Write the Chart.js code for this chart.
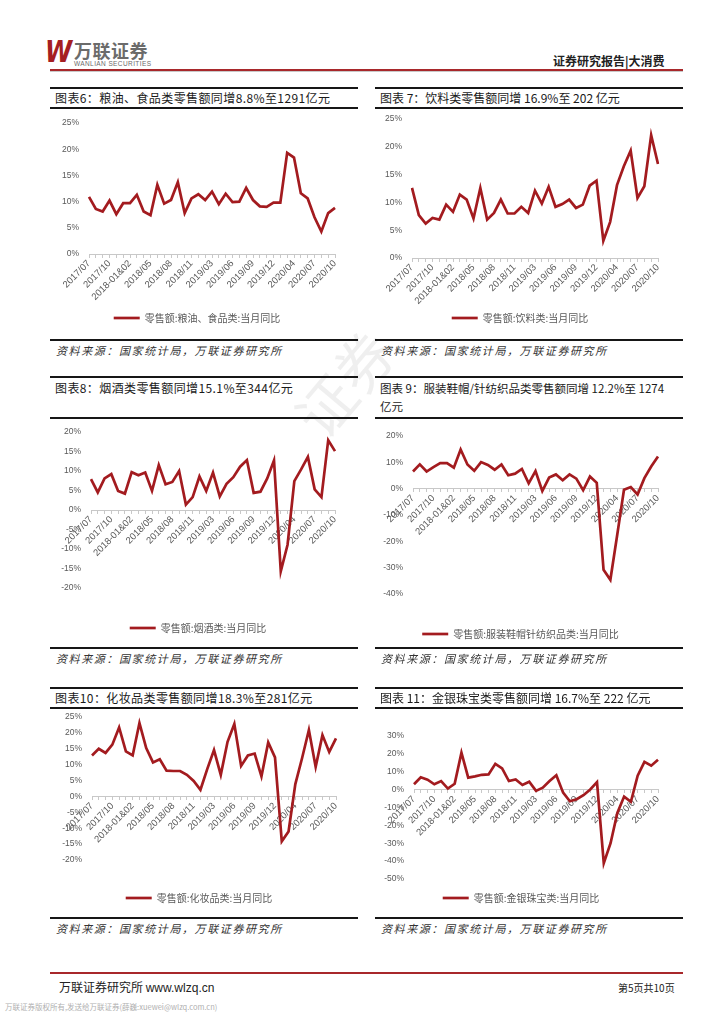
<!DOCTYPE html>
<html>
<head>
<meta charset="utf-8">
<script src="https://cdn.jsdelivr.net/npm/chart.js@4.4.0/dist/chart.umd.min.js"></script>
<style>
  body { margin: 0; background: #fff; }
  #page { position: relative; width: 724px; height: 1024px; overflow: hidden; font-family: "Noto Sans CJK SC", sans-serif; }
  .rule { position: absolute; height: 2px; background: #161616; }
  .ttl { position: absolute; font-size: 12px; color: #1a1a1a; line-height: 18px; white-space: nowrap; }
  .src { position: absolute; font-size: 11px; font-style: italic; color: #333; letter-spacing: 1.6px; white-space: nowrap; }
  canvas { position: absolute; }
</style>
</head>
<body>
<div id="page">
  <!-- header -->
  <div style="position:absolute;left:45px;top:34px;font:italic 900 30px 'DejaVu Sans';color:#A51E22;transform:scaleX(0.82);transform-origin:left top;">W</div>
  <div style="position:absolute;left:74px;top:37px;font-size:18px;font-weight:700;color:#6b6b6b;letter-spacing:0.5px;">万联证券</div>
  <div style="position:absolute;left:74px;top:60px;font:6.5px 'Liberation Sans';color:#6b6b6b;letter-spacing:0.4px;">WANLIAN SECURITIES</div>
  <div style="position:absolute;left:553px;top:52px;font-size:12px;font-weight:700;color:#222;">证券研究报告|大消费</div>
  <div style="position:absolute;left:50px;top:69px;width:633px;height:2px;background:#A8282B;"></div>
  <div style="position:absolute;left:50px;top:71px;width:633px;height:1px;background:#c9c9c9;"></div>

  <!-- watermark -->
  <div style="position:absolute;left:285px;top:340px;font-size:58px;color:rgba(150,150,150,0.15);transform:rotate(-50deg);">证券</div>

  <!-- footer -->
  <div style="position:absolute;left:50px;top:972px;width:633px;height:2px;background:#A8282B;"></div>
  <div style="position:absolute;left:59px;top:978px;font-size:12px;color:#222;">万联证券研究所 <span style="font-family:'Liberation Sans'">www.wlzq.cn</span></div>
  <div style="position:absolute;left:618px;top:980px;font-size:10px;color:#222;">第5页共10页</div>
  <div style="position:absolute;left:5px;top:1001px;font-size:7.5px;color:#b0b0b0;">万联证券版权所有,发送给万联证券(薛巍:xuewei@wlzq.com.cn)</div>

  <canvas id="c1"></canvas>
  <canvas id="c2"></canvas>
  <canvas id="c3"></canvas>
  <canvas id="c4"></canvas>
  <canvas id="c5"></canvas>
  <canvas id="c6"></canvas>
</div>

<script>
// months (Jan & Feb reported together)
const months = ["2017/07","2017/08","2017/09","2017/10","2017/11","2017/12","2018-01&02",
  "2018/03","2018/04","2018/05","2018/06","2018/07","2018/08","2018/09","2018/10","2018/11","2018/12",
  "2019/02","2019/03","2019/04","2019/05","2019/06","2019/07","2019/08","2019/09","2019/10","2019/11","2019/12",
  "2020/02","2020/03","2020/04","2020/05","2020/06","2020/07","2020/08","2020/09","2020/10"];

// retail sales yoy, %
const food = [10.9,8.6,8.1,10.2,7.6,9.7,9.7,11.3,8.1,7.4,13.2,9.6,10.3,13.7,7.8,10.6,11.4,10.3,11.9,9.5,11.5,9.9,10.0,12.6,10.3,9.1,9.0,9.8,9.8,19.3,18.4,11.6,10.6,7.0,4.3,7.8,8.8];
const drinks = [12.6,7.7,6.2,7.2,6.9,9.6,8.3,11.4,10.5,7.1,12.6,6.9,8.1,10.5,8.0,8.0,9.2,8.1,12.1,9.8,12.8,9.2,9.7,10.5,9.0,9.6,13.0,13.9,3.1,6.5,13.1,16.5,19.3,10.8,12.9,22.1,16.9];
const tobacco = [7.9,4.5,8.1,9.2,4.9,4.2,9.7,8.9,9.6,4.9,11.5,6.6,7.2,10.0,1.4,3.3,8.6,4.9,9.6,3.5,6.7,8.4,11.1,12.8,4.4,4.7,8.1,12.7,-15.7,-8.9,7.4,10.4,13.6,5.3,3.3,17.9,15.1];
const clothing = [6.5,9.2,6.5,8.2,9.7,9.7,8.0,14.9,9.2,6.8,10.1,9.0,7.2,9.2,5.1,5.7,7.5,2.0,6.7,-0.9,4.2,5.4,3.2,5.4,3.8,-0.6,4.6,2.2,-30.8,-34.6,-17.7,-0.4,0.6,-2.2,4.0,8.4,12.2];
const cosmetics = [12.9,15.0,13.7,16.3,21.7,14.2,12.9,23.1,15.2,10.7,11.7,8.1,8.0,8.0,6.8,4.9,2.1,8.6,14.6,6.8,17.2,22.8,9.6,12.9,13.5,6.3,17.0,12.3,-14.1,-11.0,3.9,12.1,20.9,9.3,19.3,14.0,18.3];
const jewelry = [3.0,6.9,5.6,3.0,4.8,0.6,3.3,20.7,6.7,7.4,8.3,8.5,14.4,11.9,4.8,5.7,2.6,4.4,-0.7,1.1,4.8,8.0,-1.7,-6.5,-5.4,-3.1,0.1,4.2,-41.1,-30.0,-13.0,-3.9,-6.8,7.8,15.5,13.4,16.7];

const titles = [
  "图表6：粮油、食品类零售额同增8.8%至1291亿元",
  "图表 7：饮料类零售额同增 16.9%至 202 亿元",
  "图表8：烟酒类零售额同增15.1%至344亿元",
  "图表 9：服装鞋帽/针纺织品类零售额同增 12.2%至 1274<br>亿元",
  "图表10：化妆品类零售额同增18.3%至281亿元",
  "图表 11：金银珠宝类零售额同增 16.7%至 222 亿元"
];
const legendNames = [
  "零售额:粮油、食品类:当月同比",
  "零售额:饮料类:当月同比",
  "零售额:烟酒类:当月同比",
  "零售额:服装鞋帽针纺织品类:当月同比",
  "零售额:化妆品类:当月同比",
  "零售额:金银珠宝类:当月同比"
];
const sourceText = "资料来源：国家统计局，万联证券研究所";

const RED = "#A31B1F";
const GREY = "#595959";
const page = document.getElementById("page");

function addDiv(cls, left, top, width, html) {
  const d = document.createElement("div");
  d.className = cls;
  d.style.left = left + "px";
  d.style.top = top + "px";
  if (width) d.style.width = width + "px";
  if (html) d.innerHTML = html;
  page.appendChild(d);
  return d;
}

// title bars and source lines
const cols = [{ x: 50, w: 308 }, { x: 375, w: 308 }];
const rows = [
  { top: 87, bottom: 107, text: 89, src: 339 },
  { top: 376, bottom: 417, text: 379, src: 647 },
  { top: 687, bottom: 707, text: 689, src: 917 }
];
rows.forEach((r, ri) => {
  cols.forEach((c, ci) => {
    addDiv("rule", c.x, r.top, c.w);
    addDiv("rule", c.x, r.bottom, c.w);
    addDiv("rule", c.x, r.src, c.w);
    const t = addDiv("ttl", c.x + 5, r.text, 0, titles[ri * 2 + ci]);
    if (ci === 0) t.style.letterSpacing = "0.4px";
    if (ri === 1 && ci === 1) t.style.fontSize = "11.5px";
    addDiv("src", c.x + 6, r.src + 3, 0, sourceText);
  });
});

// box = plot area edges and legend row position, in page px
function drawChart(id, values, name, yMin, yMax, yStep, box) {
  const cv = document.getElementById(id);
  const left = Math.round(box.l - 38), top = Math.round(box.t - 8);
  const width = Math.round(box.r + 14) - left;
  const height = Math.round(box.legend + 15) - top;
  cv.style.left = left + "px";
  cv.style.top = top + "px";
  cv.width = width;
  cv.height = height;
  const legendPad = Math.round(box.legend - box.b - 5);

  new Chart(cv.getContext("2d"), {
    type: "line",
    data: {
      labels: months,
      datasets: [{
        label: name,
        data: values,
        borderColor: RED,
        backgroundColor: RED,
        borderWidth: 2.7,
        pointRadius: 0,
        tension: 0,
        fill: false
      }]
    },
    options: {
      responsive: false,
      animation: false,
      layout: { padding: { left: 8, top: 8, right: 14, bottom: 0 } },
      plugins: {
        tooltip: { enabled: false },
        legend: {
          position: "bottom",
          labels: {
            usePointStyle: true,
            pointStyle: "line",
            pointStyleWidth: 26,
            padding: legendPad,
            color: GREY,
            font: { family: "Noto Sans CJK SC", size: 10 }
          }
        }
      },
      scales: {
        x: {
          type: "category",
          axis: "x",
          position: { y: 0 },
          offset: false,
          grid: { display: true, drawOnChartArea: false, drawTicks: true, tickLength: 3, color: "#C8C8C8" },
          border: { display: true, color: "#C8C8C8", width: 1 },
          ticks: {
            autoSkip: false,
            maxRotation: 45,
            minRotation: 45,
            padding: 1,
            color: GREY,
            font: { family: "Liberation Sans", size: 9.5 },
            callback: (v, i) => (i % 3 === 0 ? months[i] : "")
          },
          afterFit: s => { s.paddingLeft = 0; s.paddingRight = 0; s.paddingTop = 0; s.paddingBottom = 0; }
        },
        y: {
          min: yMin,
          max: yMax,
          grid: { display: false, drawTicks: false },
          border: { display: false },
          ticks: {
            stepSize: yStep,
            padding: 10,
            color: GREY,
            font: { family: "Liberation Sans", size: 8.5 },
            callback: v => v + "%"
          },
          afterFit: s => { s.width = 30; s.paddingTop = 0; s.paddingBottom = 0; }
        }
      }
    }
  });
}

drawChart("c1", food, legendNames[0], 0, 25, 5, { l: 89, r: 335, t: 122.7, b: 254, legend: 318 });
drawChart("c2", drinks, legendNames[1], 0, 25, 5, { l: 411.7, r: 657.7, t: 119.3, b: 258.7, legend: 318.3 });
drawChart("c3", tobacco, legendNames[2], -20, 20, 5, { l: 90.7, r: 335, t: 432.3, b: 588.3, legend: 628.3 });
drawChart("c4", clothing, legendNames[3], -40, 20, 10, { l: 413.3, r: 658, t: 436.3, b: 594.3, legend: 634.3 });
drawChart("c5", cosmetics, legendNames[4], -20, 25, 5, { l: 91.7, r: 335.7, t: 717.3, b: 860.7, legend: 898.3 });
drawChart("c6", jewelry, legendNames[5], -50, 30, 10, { l: 414, r: 657.7, t: 735.7, b: 879.7, legend: 898.3 });
</script>
</body>
</html>
